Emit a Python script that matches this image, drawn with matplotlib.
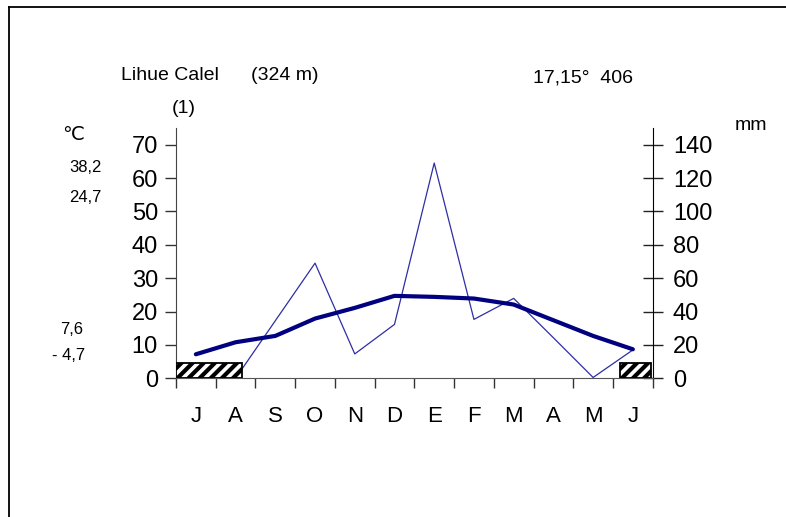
import numpy as np
import matplotlib
matplotlib.use('Agg')
import matplotlib.pyplot as plt
from matplotlib.patches import Rectangle
from matplotlib.lines import Line2D

plt.rcParams['font.family'] = ['Liberation Sans', 'DejaVu Sans']
plt.rcParams['hatch.linewidth'] = 3.0

# datos (julio -> junio)
months = ['J', 'A', 'S', 'O', 'N', 'D', 'E', 'F', 'M', 'A', 'M', 'J']
temp = [7.2, 10.8, 12.7, 17.9, 21.1, 24.7, 24.4, 23.9, 22.1, 17.4, 12.7, 8.7]
precip = [2.0, 0.0, 34.5, 69.0, 14.6, 32.3, 129.0, 35.3, 47.9, 24.3, 0.5, 17.0]
# periodos de heladas (inicio, fin) en meses
frost = [(-0.5, 1.17), (10.67, 11.46)]
frost_h = 4.6
left_labels = ['38,2', '24,7', '7,6', '- 4,7']

W, H = 786, 517
fig = plt.figure(figsize=(W / 100, H / 100), dpi=100)

def px(x, y):
    return x / W, 1 - y / H

ax = fig.add_axes([176 / W, 1 - 378.3 / H, 476.7 / W, 250.3 / H])
ax2 = ax.twinx()
ax.set_zorder(ax2.get_zorder() + 1)
ax.patch.set_visible(False)

x = np.arange(len(months))
ax2.plot(x, precip, color='#2e2ea6', lw=0.9)
ax.plot(x, temp, color='#000080', lw=3.0, solid_capstyle='round')

for a, b in frost:
    ax.add_patch(Rectangle((a, 0), b - a, frost_h, facecolor='white',
                           edgecolor='black', hatch='///', lw=1.3, zorder=5))

ax.set_xlim(-0.5, 11.5)
ax.set_ylim(0, 75)
ax2.set_ylim(0, 150)

ax.set_xticks(np.arange(-0.5, 12, 1))
ax.set_xticklabels([])
ax.set_xticks(x, minor=True)
ax.set_xticklabels(months, minor=True, fontsize=16)
ax.tick_params(axis='x', which='major', direction='out', length=7, width=1, color='#333333')
ax.tick_params(axis='x', which='minor', length=0, pad=20)

ax.set_yticks(np.arange(0, 71, 10))
ax.tick_params(axis='y', direction='out', length=8, width=1, color='#333333', labelsize=17, pad=5)
ax2.set_yticks(np.arange(0, 141, 20))
ax2.tick_params(axis='y', direction='inout', length=15, width=1, color='#222222', labelsize=17, pad=7)

for a in (ax, ax2):
    a.spines['top'].set_visible(False)
ax.spines['right'].set_visible(False)
ax2.spines['left'].set_visible(False)
ax2.spines['bottom'].set_visible(False)
ax.spines['left'].set_color('#444444')
ax.spines['bottom'].set_color('#555555')
ax2.spines['right'].set_color('black')

# textos
fig.text(*px(121, 75), 'Lihue Calel', fontsize=14, ha='left', va='center')
fig.text(*px(251, 75), '(324 m)', fontsize=14, ha='left', va='center')
fig.text(*px(172, 109), '(1)', fontsize=14, ha='left', va='center')
fig.text(*px(533, 78), '17,15°  406', fontsize=14, ha='left', va='center')
fig.text(*px(735, 125), 'mm', fontsize=14, ha='left', va='center')
fig.text(*px(62, 136), '℃', fontsize=14, ha='left', va='center')
fig.text(*px(102, 167), left_labels[0], fontsize=12, ha='right', va='center')
fig.text(*px(102, 198), left_labels[1], fontsize=12, ha='right', va='center')
fig.text(*px(83, 330), left_labels[2], fontsize=12, ha='right', va='center')
fig.text(*px(85, 356), left_labels[3], fontsize=12, ha='right', va='center')

# marco
fig.add_artist(Line2D([9 / W, 1], [1 - 7 / H, 1 - 7 / H], color='black', lw=1.3))
fig.add_artist(Line2D([9 / W, 9 / W], [0, 1 - 7 / H], color='black', lw=1.3))

fig.savefig('out.png', dpi=100)
